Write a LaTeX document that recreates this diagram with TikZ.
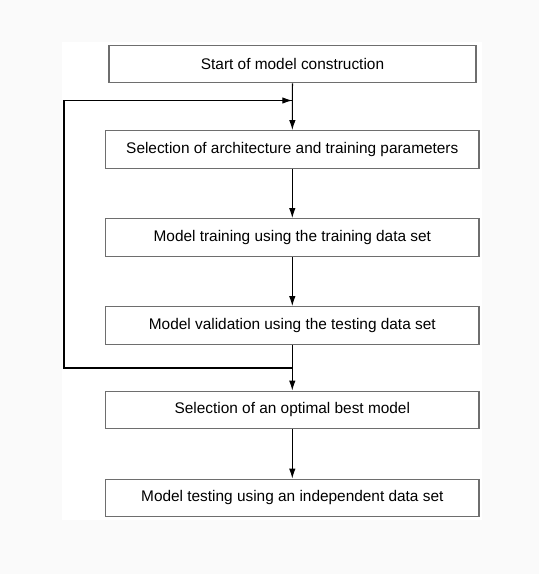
\documentclass[tikz,border=0pt]{standalone}
\usepackage{fontspec}
\setmainfont{Liberation Sans}
\usetikzlibrary{arrows.meta}
\definecolor{pagebg}{HTML}{FAFAFA}
\definecolor{boxline}{HTML}{6E6E6E}
\begin{document}
\begin{tikzpicture}[x=1pt,y=-1pt,
    stepbox/.style={draw=boxline,line width=1.3pt,fill=white,
      minimum width=373.5pt,minimum height=37.5pt,inner sep=0pt,
      font=\fontsize{15.4}{18}\selectfont},
    flow/.style={draw=black,line width=1.1pt,
      -{Latex[length=10pt,width=6.5pt]}},
    loopline/.style={draw=black,line width=1.1pt}]
  % page and backdrop
  \fill[pagebg] (0,0) rectangle (539,574);
  \fill[white] (62,42) rectangle (482,520);
  \useasboundingbox (0,0) rectangle (539,574);

  % process steps
  \node[stepbox,minimum width=367pt] (start) at (292.5,64) {Start of model construction};
  \node[stepbox] (arch)  at (292.3,149.5) {Selection of architecture and training parameters};
  \node[stepbox] (train) at (292.3,237.5) {Model training using the training data set};
  \node[stepbox] (valid) at (292.3,325.5) {Model validation using the testing data set};
  \node[stepbox] (best)  at (292.3,410)   {Selection of an optimal best model};
  \node[stepbox] (test)  at (292.3,498)   {Model testing using an independent data set};

  % main flow
  \draw[flow] (start) -- (arch);
  \draw[flow] (arch) -- (train);
  \draw[flow] (train) -- (valid);
  \draw[flow] (valid) -- (best);
  \draw[flow] (best) -- (test);

  % feedback loop from validation back to parameter selection
  \coordinate (loopout) at (292.3,368);
  \coordinate (loopin)  at (292.3,100.5);
  \coordinate (loopleft) at (64,368);
  \draw[loopline] (loopout) -- (loopleft) |- (loopin);
  \draw[flow] (loopleft |- loopin) -- (loopin);
\end{tikzpicture}
\end{document}
